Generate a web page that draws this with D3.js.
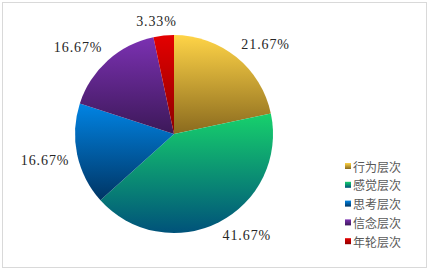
<!DOCTYPE html>
<html>
<head>
<meta charset="utf-8">
<script src="https://cdn.jsdelivr.net/npm/d3@7/dist/d3.min.js"></script>
<style>
  body { margin: 0; background: #fff; }
  svg { display: block; }
</style>
</head>
<body>
<svg width="429" height="271"></svg>
<script>
// chart data
var categories = ["行为层次", "感觉层次", "思考层次", "信念层次", "年轮层次"];
var values = [21.67, 41.67, 16.67, 16.67, 3.33];
var labels = ["21.67%", "41.67%", "16.67%", "16.67%", "3.33%"];

// gradient colours (top, bottom) per slice
var topColors = ["#ffd447", "#17d16c", "#0184e4", "#7b31b2", "#e40000"];
var bottomColors = ["#8a6a1e", "#00527a", "#003564", "#3c1858", "#8e0000"];

var svg = d3.select("svg"),
    width = +svg.attr("width"),
    height = +svg.attr("height");

// outer chart border
svg.append("rect")
    .attr("x", 2.5).attr("y", 2.5)
    .attr("width", width - 5).attr("height", height - 6)
    .attr("fill", "#fff")
    .attr("stroke", "#d9d9d9");

var cx = 174, cy = 134, r = 99;

var defs = svg.append("defs");
categories.forEach(function (c, i) {
    var g = defs.append("linearGradient")
        .attr("id", "grad" + i)
        .attr("x1", 0).attr("y1", 0).attr("x2", 0).attr("y2", 1);
    g.append("stop").attr("offset", "0%").attr("stop-color", topColors[i]);
    g.append("stop").attr("offset", "100%").attr("stop-color", bottomColors[i]);
});

var pie = d3.pie().sort(null).value(function (d) { return d; });
var arc = d3.arc().innerRadius(0).outerRadius(r);
var arcs = pie(values);

var pieG = svg.append("g").attr("transform", "translate(" + cx + "," + cy + ")");

pieG.selectAll("path.slice")
    .data(arcs)
    .enter().append("path")
    .attr("class", "slice")
    .attr("d", arc)
    .attr("fill", function (d, i) { return "url(#grad" + i + ")"; });

// data labels, placed outside end like Excel
function clamp(v) { return Math.max(-1, Math.min(1, v)); }
pieG.selectAll("text.lbl")
    .data(arcs)
    .enter().append("text")
    .attr("class", "lbl")
    .attr("font-family", "'Liberation Serif', 'DejaVu Serif', serif")
    .attr("font-size", "14px")
    .attr("letter-spacing", "0.9px")
    .attr("fill", "#262626")
    .attr("text-anchor", "middle")
    .attr("dominant-baseline", "central")
    .text(function (d, i) { return labels[i]; })
    .each(function (d) {
        var a = (d.startAngle + d.endAngle) / 2;
        var bb = this.getBBox();
        var pr = r + 8;
        var px = pr * Math.sin(a), py = -pr * Math.cos(a);
        var s = clamp(Math.sin(a) * 3), c = clamp(-Math.cos(a) * 3);
        d3.select(this)
            .attr("x", px + s * bb.width / 2)
            .attr("y", py + c * 6.5);
    });

// legend
var legend = svg.append("g").attr("transform", "translate(345,166)");
var rows = legend.selectAll("g")
    .data(categories)
    .enter().append("g")
    .attr("transform", function (d, i) { return "translate(0," + (i * 18.8) + ")"; });

rows.append("rect")
    .attr("x", 0).attr("y", -3)
    .attr("width", 6).attr("height", 6)
    .attr("fill", function (d, i) { return "url(#grad" + i + ")"; });

rows.append("text")
    .attr("x", 8)
    .attr("y", 0)
    .attr("dominant-baseline", "central")
    .attr("font-family", "'Noto Sans CJK SC', sans-serif")
    .attr("font-size", "12px")
    .attr("fill", "#595959")
    .text(function (d) { return d; });
</script>
</body>
</html>
